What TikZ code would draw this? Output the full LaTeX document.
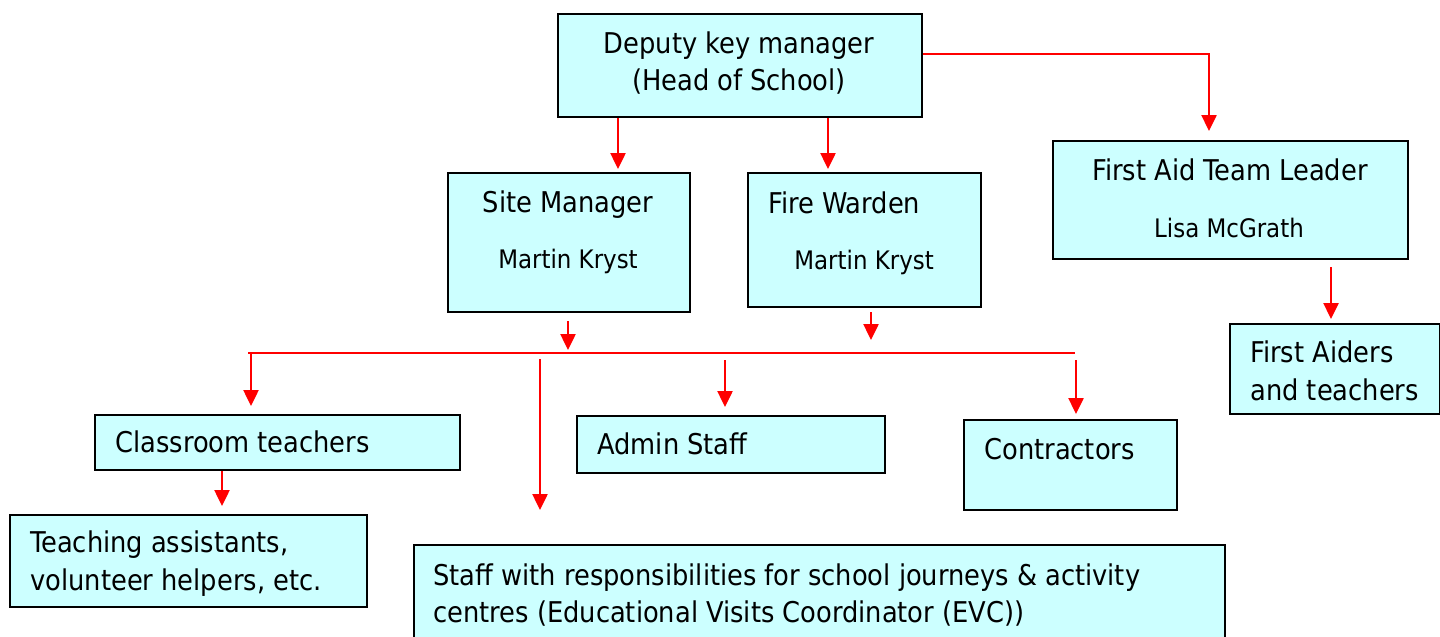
\documentclass[tikz,border=0pt]{standalone}
\usepackage{fontspec}
\setmainfont{DejaVu Sans Condensed}
\usetikzlibrary{arrows.meta}
\definecolor{boxfill}{RGB}{204,255,255}
\definecolor{linkred}{RGB}{255,0,0}
\begin{document}
\begin{tikzpicture}[x=0.5pt,y=-0.5pt,
  box/.style={draw=black,line width=1pt,fill=boxfill,inner sep=0pt,anchor=north west},
  txt/.style={inner sep=0pt,anchor=base west,font=\fontsize{14.3}{18}\selectfont},
  txtc/.style={txt,anchor=base},
  small/.style={inner sep=0pt,anchor=base west,font=\fontsize{12.75}{15}\selectfont},
  smallc/.style={small,anchor=base},
  link/.style={draw=linkred,line width=1.25pt},
  arr/.style={link,-{Triangle[length=8pt,width=7.5pt]}}]
\useasboundingbox (0,0) rectangle (1440,637);
\clip (0,0) rectangle (1440,637);

% boxes
\node[box,minimum width=182pt,minimum height=51.5pt] (dep) at (557,13) {};
\node[box,minimum width=121pt,minimum height=69.5pt] (site) at (447,172) {};
\node[box,minimum width=116.5pt,minimum height=67pt] (fire) at (747,172) {};
\node[box,minimum width=177.5pt,minimum height=59pt] (fa) at (1052,140) {};
\node[box,minimum width=105pt,minimum height=45pt] (aid) at (1229,323) {};
\node[box,minimum width=182.5pt,minimum height=27.5pt] (cls) at (94,414) {};
\node[box,minimum width=154pt,minimum height=28.5pt] (adm) at (576,415) {};
\node[box,minimum width=106.5pt,minimum height=45pt] (con) at (963,419) {};
\node[box,minimum width=178.5pt,minimum height=46pt] (tea) at (9,514) {};
\node[box,minimum width=405.5pt,minimum height=53pt] (stf) at (413,544) {};

% texts
\node[txtc] (t1) at (739,53) {Deputy key manager};
\node[txtc] (t2) at (739,90) {(Head of School)};
\node[txtc] (t3) at (568,212) {Site Manager};
\node[smallc] (t4) at (568,268) {Martin Kryst};
\node[txt] (t5) at (768,213) {Fire Warden};
\node[small] (t6) at (794,269) {Martin Kryst};
\node[txtc] (t7) at (1230,180) {First Aid Team Leader};
\node[smallc] (t8) at (1229,237) {Lisa McGrath};
\node[txt] (t9) at (1250,362) {First Aiders};
\node[txt] (t10) at (1250,400) {and teachers};
\node[txt] (t11) at (115,452) {Classroom teachers};
\node[txt] (t12) at (597,454) {Admin Staff};
\node[txt] (t13) at (984,459) {Contractors};
\node[txt] (t14) at (30,552) {Teaching assistants,};
\node[txt] (t15) at (30,590) {volunteer helpers, etc.};
\node[txt] (t16) at (433,585) {Staff with responsibilities for school journeys \& activity};
\node[txt] (t17) at (433,622) {centres (Educational Visits Coordinator (EVC))};

% distribution line
\coordinate (busL) at (248,353);
\coordinate (busR) at (1075,353);
\draw[link] (busL) -- (busR);

% connectors
\draw[arr,shorten >=1.5pt] ([xshift=-61pt]dep.south) -- ([xshift=-61pt]dep.south |- site.north);
\draw[arr,shorten >=1.5pt] ([xshift=44pt]dep.south) -- ([xshift=44pt]dep.south |- fire.north);
\draw[arr,shorten >=4.5pt] ([yshift=5.75pt]dep.east) -| ([xshift=-10.75pt]fa.north);
\draw[arr,shorten <=3.5pt,shorten >=2pt] ([xshift=50.25pt]fa.south) -- ([xshift=50.25pt]fa.south |- aid.north);
\draw[arr,shorten <=4pt,shorten >=1.5pt] ([xshift=-0.5pt]site.south) -- ([xshift=-0.5pt]site.south |- busL);
\draw[arr,shorten <=2pt,shorten >=6.5pt] ([xshift=3.25pt]fire.south) -- ([xshift=3.25pt]fire.south |- busL);
\draw[arr,shorten >=4pt] ([xshift=-13.25pt]cls.north |- busL) -- ([xshift=-13.25pt]cls.north);
\draw[arr,shorten <=3pt,shorten >=17pt] ([xshift=-139.75pt]stf.north |- busL) -- ([xshift=-139.75pt]stf.north);
\draw[arr,shorten <=3.5pt,shorten >=4pt] ([xshift=-3pt]adm.north |- busL) -- ([xshift=-3pt]adm.north);
\draw[arr,shorten <=3.5pt,shorten >=2.5pt] ([xshift=2.75pt]con.north |- busL) -- ([xshift=2.75pt]con.north);
\draw[arr,shorten >=4pt] ([xshift=-27.75pt]cls.south) -- ([xshift=-27.75pt]cls.south |- tea.north);
\end{tikzpicture}
\end{document}
